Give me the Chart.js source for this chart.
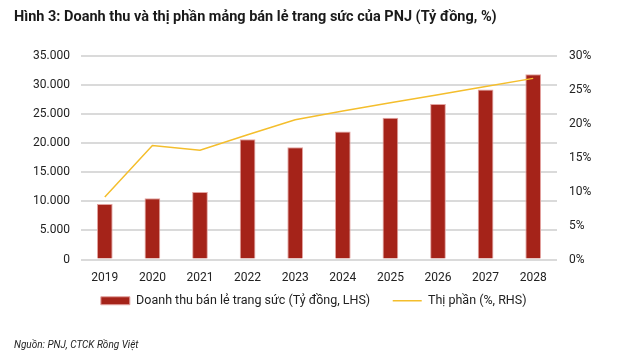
<!DOCTYPE html>
<html>
<head>
<meta charset="utf-8">
<script src="https://cdn.jsdelivr.net/npm/chart.js@4"></script>
<style>
  body { margin: 0; background: #fff; }
</style>
</head>
<body>
<canvas id="myChart" width="640" height="353"></canvas>
<script>
var years = ["2019", "2020", "2021", "2022", "2023", "2024", "2025", "2026", "2027", "2028"];
var revenue = [9550, 10550, 11600, 20700, 19300, 22000, 24400, 26750, 29250, 31850];
var share = [9.2, 16.8, 16.1, 18.4, 20.6, 21.9, 23.1, 24.3, 25.5, 26.7];
var revenueLabel = "Doanh thu bán lẻ trang sức (Tỷ đồng, LHS)";
var shareLabel = "Thị phần (%, RHS)";

var fontName = "Roboto, sans-serif";

function dotNumber(v) {
  return String(v).replace(/\B(?=(\d{3})+(?!\d))/g, ".");
}

new Chart("myChart", {
  type: "bar",
  data: {
    labels: years,
    datasets: [
      {
        type: "line",
        label: shareLabel + "      ",
        data: share,
        yAxisID: "y1",
        borderColor: "#F4BE2C",
        backgroundColor: "#F4BE2C",
        borderWidth: 1.5,
        pointRadius: 0,
        pointStyle: "line",
        tension: 0
      },
      {
        label: revenueLabel + "     ",
        data: revenue,
        yAxisID: "y",
        backgroundColor: "#A52319",
        borderColor: "#E3A3A0",
        borderWidth: 1,
        pointStyle: "rect",
        barPercentage: 0.66,
        categoryPercentage: 0.5
      }
    ]
  },
  options: {
    responsive: false,
    animation: false,
    layout: { padding: { left: 14, right: 8, top: 0, bottom: 0 } },
    plugins: {
      title: {
        display: true,
        text: "Hình 3: Doanh thu và thị phần mảng bán lẻ trang sức của PNJ (Tỷ đồng, %)",
        align: "start",
        color: "#1a1a1a",
        font: { family: fontName, size: 14.5, weight: "bold" },
        padding: { top: 8.8, bottom: 29.8 }
      },
      subtitle: {
        display: true,
        position: "bottom",
        text: "Nguồn: PNJ, CTCK Rồng Việt",
        align: "start",
        color: "#222",
        font: { family: fontName, size: 10, style: "italic" },
        padding: { top: 22, bottom: 2 }
      },
      legend: {
        position: "bottom",
        labels: {
          usePointStyle: true,
          pointStyleWidth: 29,
          boxHeight: 8,
          padding: 7,
          color: "#222",
          font: { family: fontName, size: 12.5 },
          sort: function (a, b) { return b.datasetIndex - a.datasetIndex; }
        }
      },
      tooltip: { enabled: false }
    },
    scales: {
      x: {
        grid: { display: false },
        border: { display: false },
        ticks: { color: "#222", font: { family: fontName, size: 12 }, padding: 2.8 }
      },
      y: {
        position: "left",
        min: 0,
        max: 35000,
        afterFit: function (scale) { scale.width = 67; },
        grid: { color: "#dadada", lineWidth: 2, drawTicks: false },
        border: { display: false },
        ticks: {
          stepSize: 5000,
          padding: 11,
          color: "#222",
          font: { family: fontName, size: 12 },
          callback: function (v) { return dotNumber(v); }
        }
      },
      y1: {
        position: "right",
        min: 0,
        max: 30,
        afterFit: function (scale) { scale.width = 75; },
        grid: { display: false, drawTicks: false },
        border: { display: false },
        ticks: {
          stepSize: 5,
          padding: 12,
          color: "#222",
          font: { family: fontName, size: 12 },
          callback: function (v) { return v + "%"; }
        }
      }
    }
  }
});
</script>
</body>
</html>
